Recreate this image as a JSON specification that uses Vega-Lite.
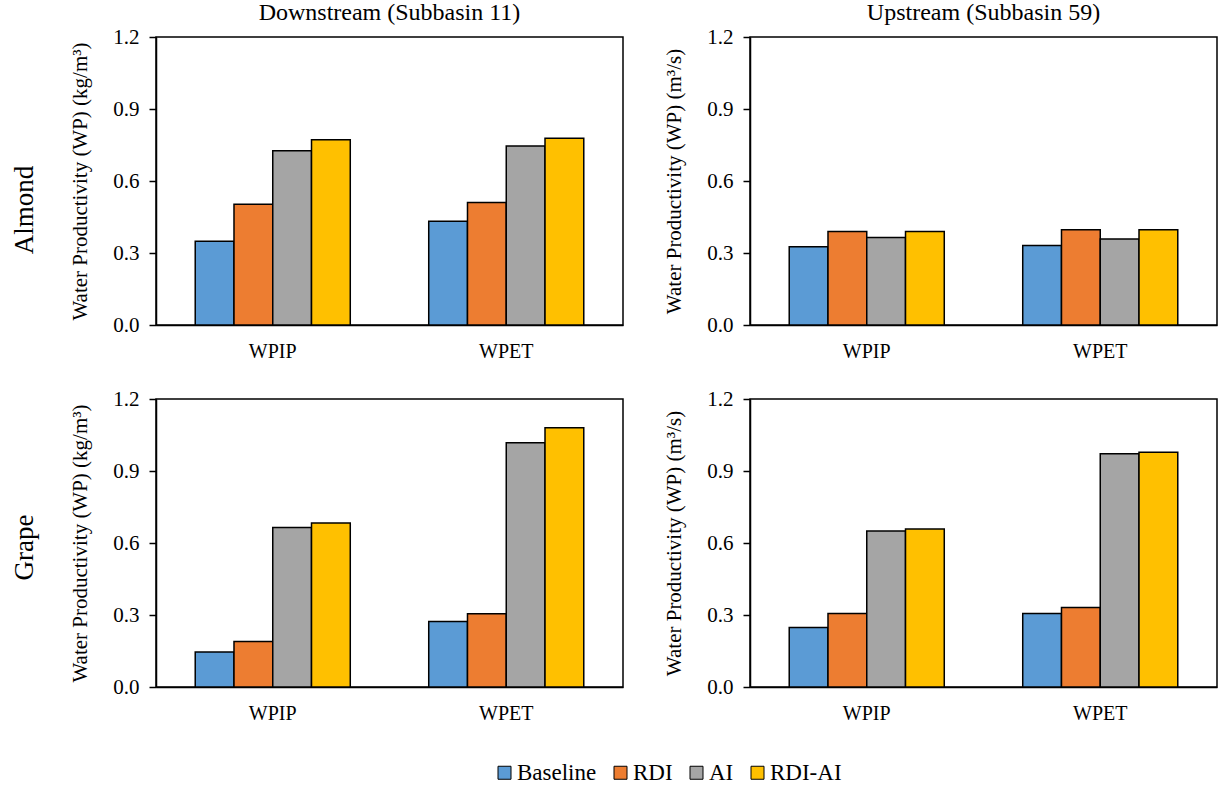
{
  "$schema": "https://vega.github.io/schema/vega-lite/v6.json",
  "padding": {"left": 11, "top": 0, "right": 3, "bottom": 5},
  "background": "white",
  "data": {"values": [
    {"crop": "Almond", "site": "Downstream", "measure": "WPIP", "scenario": "Baseline", "value": 0.349},
    {"crop": "Almond", "site": "Downstream", "measure": "WPIP", "scenario": "RDI", "value": 0.503},
    {"crop": "Almond", "site": "Downstream", "measure": "WPIP", "scenario": "AI", "value": 0.726},
    {"crop": "Almond", "site": "Downstream", "measure": "WPIP", "scenario": "RDI-AI", "value": 0.772},
    {"crop": "Almond", "site": "Downstream", "measure": "WPET", "scenario": "Baseline", "value": 0.432},
    {"crop": "Almond", "site": "Downstream", "measure": "WPET", "scenario": "RDI", "value": 0.51},
    {"crop": "Almond", "site": "Downstream", "measure": "WPET", "scenario": "AI", "value": 0.746},
    {"crop": "Almond", "site": "Downstream", "measure": "WPET", "scenario": "RDI-AI", "value": 0.778},
    {"crop": "Almond", "site": "Upstream", "measure": "WPIP", "scenario": "Baseline", "value": 0.326},
    {"crop": "Almond", "site": "Upstream", "measure": "WPIP", "scenario": "RDI", "value": 0.39},
    {"crop": "Almond", "site": "Upstream", "measure": "WPIP", "scenario": "AI", "value": 0.365},
    {"crop": "Almond", "site": "Upstream", "measure": "WPIP", "scenario": "RDI-AI", "value": 0.39},
    {"crop": "Almond", "site": "Upstream", "measure": "WPET", "scenario": "Baseline", "value": 0.331},
    {"crop": "Almond", "site": "Upstream", "measure": "WPET", "scenario": "RDI", "value": 0.397},
    {"crop": "Almond", "site": "Upstream", "measure": "WPET", "scenario": "AI", "value": 0.358},
    {"crop": "Almond", "site": "Upstream", "measure": "WPET", "scenario": "RDI-AI", "value": 0.397},
    {"crop": "Grape", "site": "Downstream", "measure": "WPIP", "scenario": "Baseline", "value": 0.146},
    {"crop": "Grape", "site": "Downstream", "measure": "WPIP", "scenario": "RDI", "value": 0.19},
    {"crop": "Grape", "site": "Downstream", "measure": "WPIP", "scenario": "AI", "value": 0.665},
    {"crop": "Grape", "site": "Downstream", "measure": "WPIP", "scenario": "RDI-AI", "value": 0.683},
    {"crop": "Grape", "site": "Downstream", "measure": "WPET", "scenario": "Baseline", "value": 0.273},
    {"crop": "Grape", "site": "Downstream", "measure": "WPET", "scenario": "RDI", "value": 0.305},
    {"crop": "Grape", "site": "Downstream", "measure": "WPET", "scenario": "AI", "value": 1.018},
    {"crop": "Grape", "site": "Downstream", "measure": "WPET", "scenario": "RDI-AI", "value": 1.08},
    {"crop": "Grape", "site": "Upstream", "measure": "WPIP", "scenario": "Baseline", "value": 0.248},
    {"crop": "Grape", "site": "Upstream", "measure": "WPIP", "scenario": "RDI", "value": 0.306},
    {"crop": "Grape", "site": "Upstream", "measure": "WPIP", "scenario": "AI", "value": 0.65},
    {"crop": "Grape", "site": "Upstream", "measure": "WPIP", "scenario": "RDI-AI", "value": 0.658},
    {"crop": "Grape", "site": "Upstream", "measure": "WPET", "scenario": "Baseline", "value": 0.306},
    {"crop": "Grape", "site": "Upstream", "measure": "WPET", "scenario": "RDI", "value": 0.331},
    {"crop": "Grape", "site": "Upstream", "measure": "WPET", "scenario": "AI", "value": 0.972},
    {"crop": "Grape", "site": "Upstream", "measure": "WPET", "scenario": "RDI-AI", "value": 0.978}
  ]},
  "spacing": 25,
  "vconcat": [
    {
      "title": {"text": "Almond", "orient": "left", "fontSize": 27, "offset": 30, "anchor": "middle", "dx": -29},
      "spacing": 38,
      "hconcat": [
        {
          "width": 467, "height": 288,
          "title": {"text": "Downstream (Subbasin 11)"},
          "transform": [{"filter": "datum.crop === 'Almond' && datum.site === 'Downstream'"}],
          "mark": {"type": "bar", "stroke": "black", "strokeWidth": 1.5},
          "encoding": {
            "x": {"field": "measure", "type": "nominal", "sort": ["WPIP", "WPET"], "scale": {"paddingInner": 0.336, "paddingOuter": 0.168}, "axis": {"title": null}},
            "xOffset": {"field": "scenario", "type": "nominal", "sort": ["Baseline", "RDI", "AI", "RDI-AI"], "scale": {"paddingInner": 0, "paddingOuter": 0}},
            "y": {"field": "value", "type": "quantitative", "scale": {"domain": [0, 1.2]}, "axis": {"title": "Water Productivity (WP) (kg/m³)", "values": [0, 0.3, 0.6, 0.9, 1.2]}},
            "color": {"field": "scenario", "type": "nominal", "sort": ["Baseline", "RDI", "AI", "RDI-AI"], "scale": {"domain": ["Baseline", "RDI", "AI", "RDI-AI"], "range": ["#5B9BD5", "#ED7D31", "#A5A5A5", "#FFC000"]}, "legend": {"title": null}}
          }
        },
        {
          "width": 467, "height": 288,
          "title": {"text": "Upstream (Subbasin 59)"},
          "transform": [{"filter": "datum.crop === 'Almond' && datum.site === 'Upstream'"}],
          "mark": {"type": "bar", "stroke": "black", "strokeWidth": 1.5},
          "encoding": {
            "x": {"field": "measure", "type": "nominal", "sort": ["WPIP", "WPET"], "scale": {"paddingInner": 0.336, "paddingOuter": 0.168}, "axis": {"title": null}},
            "xOffset": {"field": "scenario", "type": "nominal", "sort": ["Baseline", "RDI", "AI", "RDI-AI"], "scale": {"paddingInner": 0, "paddingOuter": 0}},
            "y": {"field": "value", "type": "quantitative", "scale": {"domain": [0, 1.2]}, "axis": {"title": "Water Productivity (WP) (m³/s)", "values": [0, 0.3, 0.6, 0.9, 1.2]}},
            "color": {"field": "scenario", "type": "nominal", "sort": ["Baseline", "RDI", "AI", "RDI-AI"], "scale": {"domain": ["Baseline", "RDI", "AI", "RDI-AI"], "range": ["#5B9BD5", "#ED7D31", "#A5A5A5", "#FFC000"]}, "legend": {"title": null}}
          }
        }
      ]
    },
    {
      "title": {"text": "Grape", "orient": "left", "fontSize": 27, "offset": 30, "anchor": "middle", "dx": 8},
      "spacing": 38,
      "hconcat": [
        {
          "width": 467, "height": 288,
          "transform": [{"filter": "datum.crop === 'Grape' && datum.site === 'Downstream'"}],
          "mark": {"type": "bar", "stroke": "black", "strokeWidth": 1.5},
          "encoding": {
            "x": {"field": "measure", "type": "nominal", "sort": ["WPIP", "WPET"], "scale": {"paddingInner": 0.336, "paddingOuter": 0.168}, "axis": {"title": null}},
            "xOffset": {"field": "scenario", "type": "nominal", "sort": ["Baseline", "RDI", "AI", "RDI-AI"], "scale": {"paddingInner": 0, "paddingOuter": 0}},
            "y": {"field": "value", "type": "quantitative", "scale": {"domain": [0, 1.2]}, "axis": {"title": "Water Productivity (WP) (kg/m³)", "values": [0, 0.3, 0.6, 0.9, 1.2]}},
            "color": {"field": "scenario", "type": "nominal", "sort": ["Baseline", "RDI", "AI", "RDI-AI"], "scale": {"domain": ["Baseline", "RDI", "AI", "RDI-AI"], "range": ["#5B9BD5", "#ED7D31", "#A5A5A5", "#FFC000"]}, "legend": {"title": null}}
          }
        },
        {
          "width": 467, "height": 288,
          "transform": [{"filter": "datum.crop === 'Grape' && datum.site === 'Upstream'"}],
          "mark": {"type": "bar", "stroke": "black", "strokeWidth": 1.5},
          "encoding": {
            "x": {"field": "measure", "type": "nominal", "sort": ["WPIP", "WPET"], "scale": {"paddingInner": 0.336, "paddingOuter": 0.168}, "axis": {"title": null}},
            "xOffset": {"field": "scenario", "type": "nominal", "sort": ["Baseline", "RDI", "AI", "RDI-AI"], "scale": {"paddingInner": 0, "paddingOuter": 0}},
            "y": {"field": "value", "type": "quantitative", "scale": {"domain": [0, 1.2]}, "axis": {"title": "Water Productivity (WP) (m³/s)", "values": [0, 0.3, 0.6, 0.9, 1.2]}},
            "color": {"field": "scenario", "type": "nominal", "sort": ["Baseline", "RDI", "AI", "RDI-AI"], "scale": {"domain": ["Baseline", "RDI", "AI", "RDI-AI"], "range": ["#5B9BD5", "#ED7D31", "#A5A5A5", "#FFC000"]}, "legend": {"title": null}}
          }
        }
      ]
    }
  ],
  "config": {
    "font": "Liberation Serif",
    "style": {"guide-label": {"font": "Liberation Serif"}},
    "view": {"stroke": "black", "strokeWidth": 1.5},
    "title": {"fontSize": 24, "fontWeight": "normal", "color": "black", "offset": 1},
    "axis": {"grid": false, "domainColor": "black", "domainWidth": 1.5, "tickColor": "black", "tickWidth": 1.5, "labelColor": "black", "titleColor": "black", "labelFont": "Liberation Serif", "titleFont": "Liberation Serif", "titleFontWeight": "normal"},
    "axisX": {"labelAngle": 0, "ticks": false, "labelFontSize": 20, "labelPadding": 16, "domain": true},
    "axisY": {"format": ".1f", "labelFontSize": 21, "tickSize": 7, "labelPadding": 10, "titleFontSize": 21, "titlePadding": 22},
    "legend": {"orient": "none", "legendX": 337, "legendY": 724, "direction": "horizontal", "symbolType": "square", "symbolSize": 169, "symbolStrokeColor": "black", "symbolStrokeWidth": 1, "labelFontSize": 23, "labelColor": "black", "labelFont": "Liberation Serif", "labelOffset": 1, "columnPadding": 12, "symbolOffset": 0}
  }
}
